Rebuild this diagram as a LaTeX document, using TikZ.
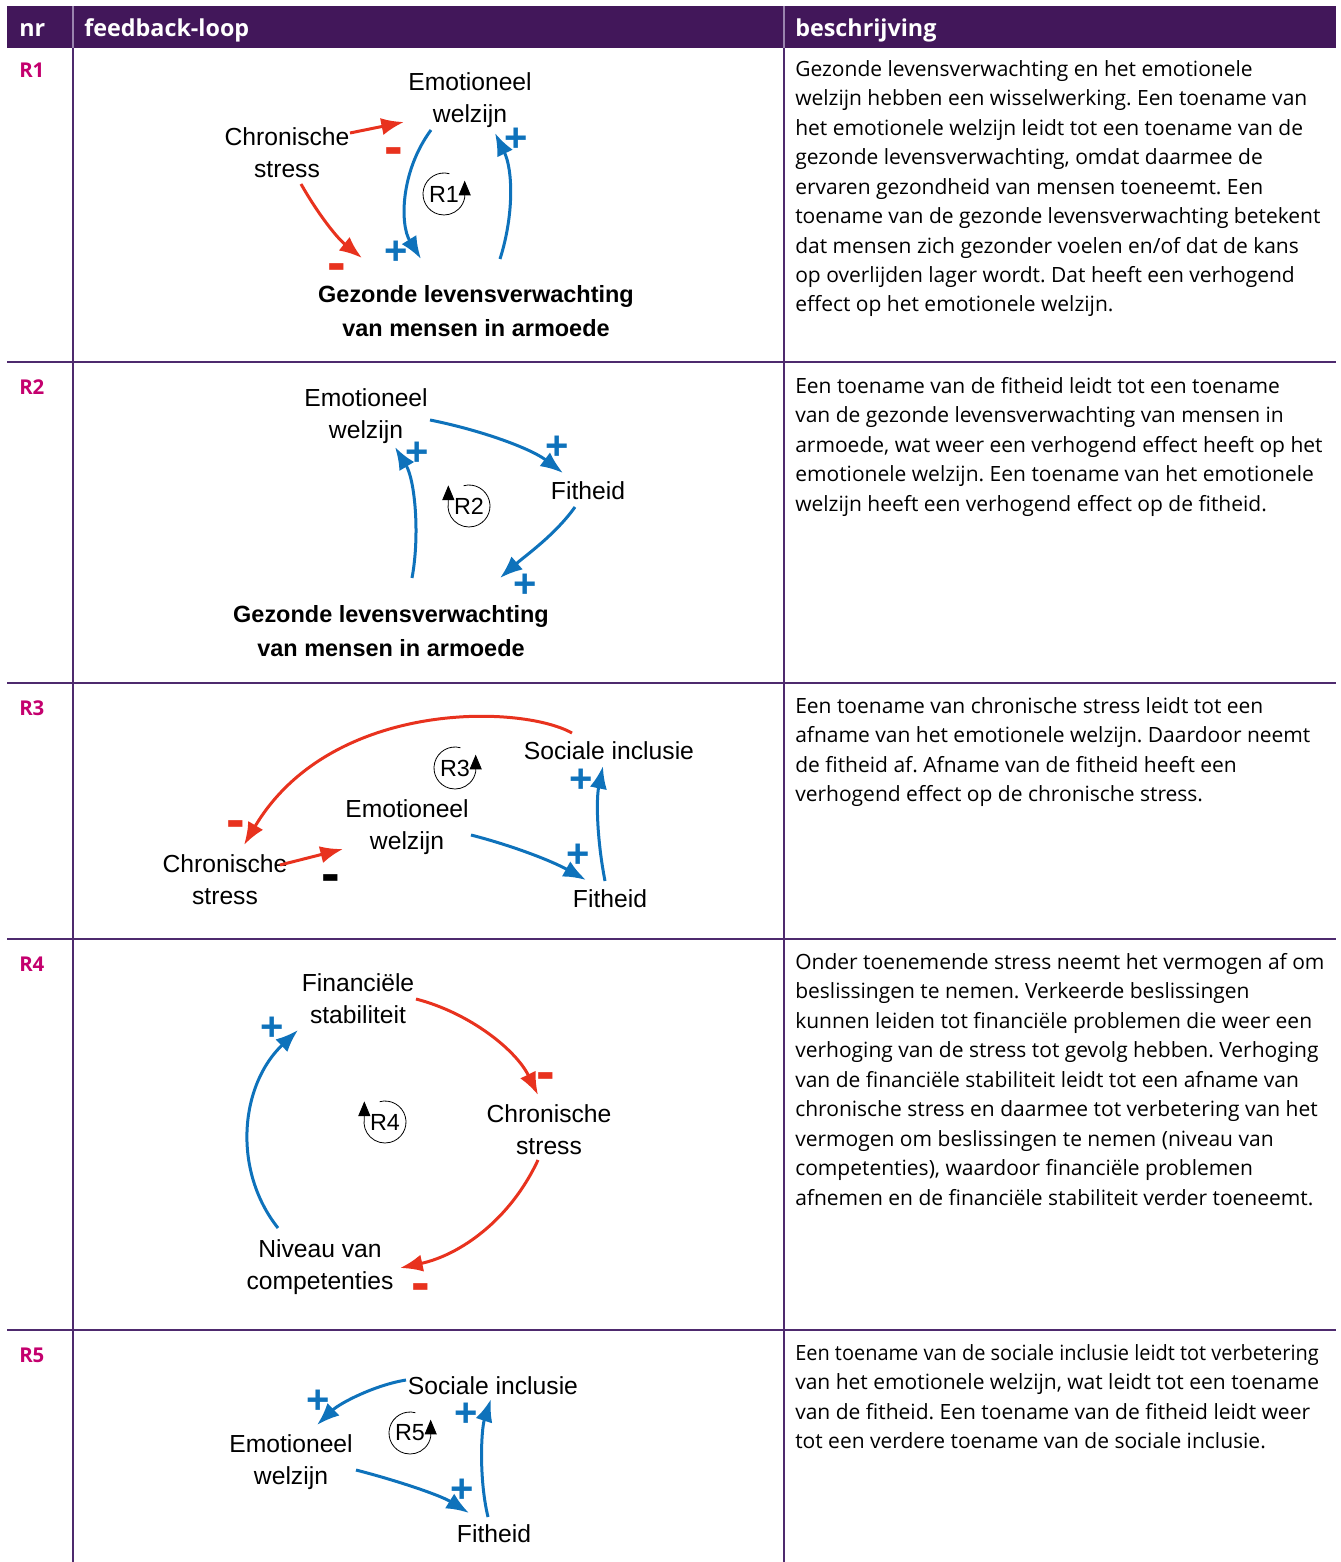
\documentclass[tikz,border=0pt]{standalone}
\usepackage{fontspec}
\setmainfont{Open Sans}
\newfontfamily\diagfont{Liberation Sans}
\usetikzlibrary{arrows.meta}
\definecolor{hdrpurple}{HTML}{42175A}
\definecolor{hdrsep}{HTML}{9A84AE}
\definecolor{rulepurple}{HTML}{4E2A6E}
\definecolor{rowmagenta}{HTML}{C4006E}
\definecolor{cldred}{HTML}{E8321E}
\definecolor{cldblue}{HTML}{0E72BB}
\frenchspacing

\begin{document}
\begin{tikzpicture}[x=0.75pt,y=-0.75pt,
  var/.style={font=\diagfont\fontsize{18.5}{24}\selectfont, align=center, inner sep=0pt},
  keyvar/.style={font=\diagfont\bfseries\fontsize{17.6}{25}\selectfont, align=center, inner sep=0pt},
  poslink/.style={color=cldblue, line width=2.25pt, -{Latex[length=17pt,width=13pt]}},
  neglink/.style={poslink, color=cldred},
  plussign/.style={text=cldblue, font=\diagfont\bfseries\fontsize{30}{30}\selectfont, inner sep=0pt},
  minussign/.style={text=cldred, font=\diagfont\bfseries\fontsize{42}{42}\selectfont, inner sep=0pt},
  loopsym/.style={line width=0.6pt, -{Triangle[length=11pt,width=9pt]}},
  looplabel/.style={font=\diagfont\fontsize{17.5}{17.5}\selectfont, inner sep=0pt},
  desc/.style={anchor=north west, align=left, inner sep=0pt, font=\fontsize{15.75}{22.1}\selectfont},
  rowlabel/.style={anchor=base west, text=rowmagenta, font=\bfseries\fontsize{15.3}{15.3}\selectfont, inner sep=0pt},
  headtext/.style={anchor=base west, text=white, font=\bfseries\fontsize{17.5}{17.5}\selectfont, inner sep=0pt},
  tablerule/.style={draw=rulepurple, line width=1.1pt}
]
\useasboundingbox (0,0) rectangle (1340,1562);

% ---------- table frame ----------
\fill[hdrpurple] (7,6) rectangle (1336,48);
\draw[hdrsep, line width=1pt] (73,6) -- (73,48) (784,6) -- (784,48);
\draw[tablerule] (73,48) -- (73,1562) (784,48) -- (784,1562);
\draw[tablerule] (7,362) -- (1336,362) (7,683) -- (1336,683)
            (7,939) -- (1336,939) (7,1330) -- (1336,1330);

\node[headtext] (hnr) at (19,37) {nr};
\node[headtext] (hloop) at (84,37) {feedback-loop};
\node[headtext] (hdesc) at (795,37) {beschrijving};

\node[rowlabel] (n1) at (19,78) {R1};
\node[rowlabel] (n2) at (19,394) {R2};
\node[rowlabel] (n3) at (19,715) {R3};
\node[rowlabel] (n4) at (19,971) {R4};
\node[rowlabel] (n5) at (19,1362) {R5};

% ---------- descriptions ----------
\node[desc] (d1) at (795,60) {Gezonde levensverwachting en het emotionele\\
welzijn hebben een wisselwerking. Een toename van\\
het emotionele welzijn leidt tot een toename van de\\
gezonde levensverwachting, omdat daarmee de\\
ervaren gezondheid van mensen toeneemt. Een\\
toename van de gezonde levensverwachting betekent\\
dat mensen zich gezonder voelen en/of dat de kans\\
op overlijden lager wordt. Dat heeft een verhogend\\
effect op het emotionele welzijn.};

\node[desc] (d2) at (795,377) {Een toename van de fitheid leidt tot een toename\\
van de gezonde levensverwachting van mensen in\\
armoede, wat weer een verhogend effect heeft op het\\
emotionele welzijn. Een toename van het emotionele\\
welzijn heeft een verhogend effect op de fitheid.};

\node[desc] (d3) at (795,697) {Een toename van chronische stress leidt tot een\\
afname van het emotionele welzijn. Daardoor neemt\\
de fitheid af. Afname van de fitheid heeft een\\
verhogend effect op de chronische stress.};

\node[desc] (d4) at (795,953) {Onder toenemende stress neemt het vermogen af om\\
beslissingen te nemen. Verkeerde beslissingen\\
kunnen leiden tot financiële problemen die weer een\\
verhoging van de stress tot gevolg hebben. Verhoging\\
van de financiële stabiliteit leidt tot een afname van\\
chronische stress en daarmee tot verbetering van het\\
vermogen om beslissingen te nemen (niveau van\\
competenties), waardoor financiële problemen\\
afnemen en de financiële stabiliteit verder toeneemt.};

\node[desc] (d5) at (795,1344) {\scalebox{0.95}[1]{Een toename van de sociale inclusie leidt tot verbetering}\\
van het emotionele welzijn, wat leidt tot een toename\\
van de fitheid. Een toename van de fitheid leidt weer\\
tot een verdere toename van de sociale inclusie.};

% ---------- loop R1 ----------
\node[var] (ew1) at (470,100) {Emotioneel\\welzijn};
\node[var] (cs1) at (287,153) {Chronische\\stress};
\node[keyvar] (gl1) at (476,311) {Gezonde levensverwachting\\van mensen in armoede};
\path (350,133) coordinate (r1as) (404,122) coordinate (r1ae)
      (301,184) coordinate (r1bs) (362,258) coordinate (r1be)
      (431,130) coordinate (r1cs) (421,259) coordinate (r1ce)
      (500,259) coordinate (r1ds) (495,133) coordinate (r1de);
\draw[neglink] (r1as) -- (r1ae);
\draw[neglink] (r1bs) .. controls (318,214) and (337,238) .. (r1be);
\draw[poslink] (r1cs) .. controls (400,172) and (400,225) .. (r1ce);
\draw[poslink] (r1ds) .. controls (514,215) and (513,170) .. (r1de);
\node[minussign] (m1a) at (394,157) {-};
\node[minussign] (m1b) at (337,273) {-};
\node[plussign] (p1a) at (396,253) {+};
\node[plussign] (p1b) at (516,140) {+};
\node[looplabel] (lp1) at (444,194) {R1};
\draw[loopsym] (lp1.center) ++(-75:21) arc[start angle=-75, end angle=-350, radius=21] -- ++(0,-17);

% ---------- loop R2 ----------
\node[var] (ew2) at (366,416) {Emotioneel\\welzijn};
\node[var] (fh2) at (588,491) {Fitheid};
\node[keyvar] (gl2) at (391,631) {Gezonde levensverwachting\\van mensen in armoede};
\path (430,420) coordinate (r2as) (563,473) coordinate (r2ae)
      (575,507) coordinate (r2bs) (500,578) coordinate (r2be)
      (412,578) coordinate (r2cs) (395,447) coordinate (r2ce);
\draw[poslink] (r2as) .. controls (480,430) and (530,448) .. (r2ae);
\draw[poslink] (r2bs) .. controls (555,535) and (525,556) .. (r2be);
\draw[poslink] (r2cs) .. controls (420,535) and (415,480) .. (r2ce);
\node[plussign] (p2a) at (557,448) {+};
\node[plussign] (p2b) at (525,586) {+};
\node[plussign] (p2c) at (417,454) {+};
\node[looplabel] (lp2) at (469,506) {R2};
\draw[loopsym] (lp2.center) ++(-105:21) arc[start angle=-105, end angle=190, radius=21] -- ++(0,-17);

% ---------- loop R3 ----------
\node[var] (si3) at (609,751) {Sociale inclusie};
\node[var] (ew3) at (407,827) {Emotioneel\\welzijn};
\node[var] (cs3) at (225,880) {Chronische\\stress};
\node[var] (fh3) at (610,899) {Fitheid};
\path (572,733) coordinate (r3as) (244,845) coordinate (r3ae)
      (280,865) coordinate (r3bs) (343,849) coordinate (r3be)
      (471,835) coordinate (r3cs) (586,880) coordinate (r3ce)
      (605,881) coordinate (r3ds) (603,766) coordinate (r3de);
\draw[neglink] (r3as) .. controls (520,704) and (330,700) .. (r3ae);
\draw[neglink] (r3bs) -- (r3be);
\draw[poslink] (r3cs) .. controls (510,845) and (550,860) .. (r3ce);
\draw[poslink] (r3ds) .. controls (597,840) and (596,800) .. (r3de);
\node[minussign] (m3a) at (236,830) {-};
\node[minussign, text=black] (m3b) at (331,884) {-};
\node[plussign] (p3a) at (578,856) {+};
\node[plussign] (p3b) at (581,781) {+};
\node[looplabel] (lp3) at (455,768) {R3};
\draw[loopsym] (lp3.center) ++(-75:21) arc[start angle=-75, end angle=-350, radius=21] -- ++(0,-17);

% ---------- loop R4 ----------
\node[var] (fs4) at (358,999) {Financiële\\stabiliteit};
\node[var] (cs4) at (549,1130) {Chronische\\stress};
\node[var] (nc4) at (320,1267) {Niveau van\\competenties};
\path (416,999) coordinate (r4as) (538,1095) coordinate (r4ae)
      (538,1160) coordinate (r4bs) (400,1268) coordinate (r4be)
      (278,1228) coordinate (r4cs) (298,1030) coordinate (r4ce);
\draw[neglink] (r4as) .. controls (470,1013) and (516,1050) .. (r4ae);
\draw[neglink] (r4bs) .. controls (510,1220) and (460,1255) .. (r4be);
\draw[poslink] (r4cs) .. controls (232,1170) and (240,1085) .. (r4ce);
\node[minussign] (m4a) at (546,1082) {-};
\node[minussign] (m4b) at (421,1293) {-};
\node[plussign] (p4a) at (272,1029) {+};
\node[looplabel] (lp4) at (385,1122) {R4};
\draw[loopsym] (lp4.center) ++(-105:21) arc[start angle=-105, end angle=190, radius=21] -- ++(0,-17);

% ---------- loop R5 ----------
\node[var] (si5) at (493,1386) {Sociale inclusie};
\node[var] (ew5) at (291,1462) {Emotioneel\\welzijn};
\node[var] (fh5) at (494,1534) {Fitheid};
\path (406,1380) coordinate (r5as) (317,1425) coordinate (r5ae)
      (356,1470) coordinate (r5bs) (469,1513) coordinate (r5be)
      (488,1517) coordinate (r5cs) (491,1399) coordinate (r5ce);
\draw[poslink] (r5as) .. controls (375,1385) and (340,1403) .. (r5ae);
\draw[poslink] (r5bs) .. controls (395,1480) and (440,1495) .. (r5be);
\draw[poslink] (r5cs) .. controls (479,1480) and (481,1430) .. (r5ce);
\node[plussign] (p5a) at (318,1402) {+};
\node[plussign] (p5b) at (462,1491) {+};
\node[plussign] (p5c) at (466,1415) {+};
\node[looplabel] (lp5) at (410,1433) {R5};
\draw[loopsym] (lp5.center) ++(-75:21) arc[start angle=-75, end angle=-350, radius=21] -- ++(0,-17);
\end{tikzpicture}
\end{document}
